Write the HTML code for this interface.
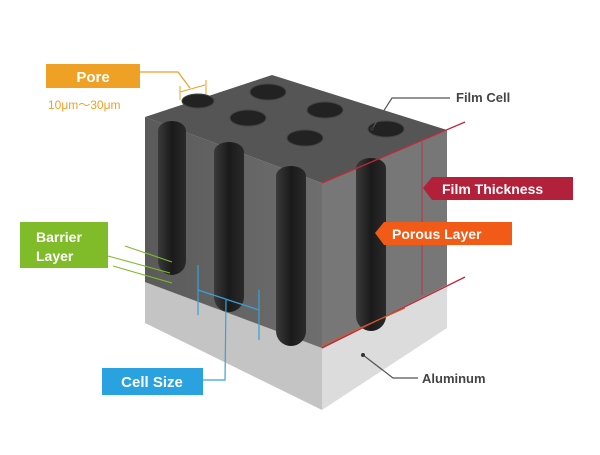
<!DOCTYPE html>
<html><head><style>
body{margin:0;width:600px;height:450px;background:#fff;overflow:hidden;font-family:"Liberation Sans",sans-serif}
</style></head><body>
<svg width="600" height="450" viewBox="0 0 600 450" xmlns="http://www.w3.org/2000/svg" font-family="Liberation Sans, sans-serif">
<defs>
<linearGradient id="pore" x1="0" x2="1"><stop offset="0" stop-color="#3a3a3a"/><stop offset=".5" stop-color="#1a1a1a"/><stop offset="1" stop-color="#2a2a2a"/></linearGradient>
<linearGradient id="lf" x1="0" x2="1"><stop offset="0" stop-color="#5a5a5a"/><stop offset="1" stop-color="#6e6e6e"/></linearGradient>
</defs>
<polygon points="145,280 322,345 322,410 145,323" fill="#c4c4c4"/>
<polygon points="322,345 447,285 447,328 322,410" fill="#dcdcdc"/>
<polygon points="145,117 322,183 322,348 145,282" fill="url(#lf)"/>
<polygon points="322,183 447,130 447,285 322,348" fill="#777"/>
<polygon points="145,117 272,75 447,130 322,183" fill="#555"/>
<g fill="#222" stroke="#444">
<ellipse cx="268" cy="92" rx="18" ry="8"/>
<ellipse cx="248" cy="118" rx="18" ry="8"/>
<ellipse cx="325" cy="110" rx="18" ry="8"/>
<ellipse cx="305" cy="138" rx="18" ry="8"/>
<ellipse cx="386" cy="129" rx="18" ry="8"/>
<ellipse cx="198" cy="101" rx="16" ry="7"/>
</g>
<g fill="url(#pore)">
<path d="M158,131 a14,10 0 0 1 28,0 v130 a14,14 0 0 1 -28,0z"/>
<path d="M214,152 a15,10 0 0 1 30,0 v145 a15,15 0 0 1 -30,0z"/>
<path d="M276,176 a15,10 0 0 1 30,0 v155 a15,15 0 0 1 -30,0z"/>
<path d="M356,168 a15,10 0 0 1 30,0 v148 a15,15 0 0 1 -30,0z"/>
</g>
<g stroke="#c0283c" stroke-width="1.3">
<line x1="322" y1="183" x2="465" y2="122"/>
<line x1="322" y1="348" x2="465" y2="277"/>
<line x1="422" y1="142" x2="422" y2="295" stroke-width=".8"/>
</g>
<line x1="322" y1="345" x2="405" y2="308" stroke="#c8602a" stroke-width="1.2"/>
<rect x="46" y="64" width="94" height="24" fill="#eea124"/>
<text x="93" y="82" fill="#fff" font-size="15" font-weight="bold" text-anchor="middle">Pore</text>
<text x="48" y="109" fill="#eea124" font-size="12">10μm〜30μm</text>
<polyline points="140,72 178,72 190,88" fill="none" stroke="#eea124" stroke-width="1.2"/>
<line x1="180" y1="92" x2="205" y2="85" stroke="#eea124"/>
<line x1="180" y1="86" x2="180" y2="100" stroke="#eea124"/>
<line x1="206" y1="80" x2="206" y2="94" stroke="#eea124"/>
<polyline points="372,129 392,98 450,98" fill="none" stroke="#555" stroke-width="1.2"/>
<circle cx="372" cy="129" r="2" fill="#333"/>
<text x="456" y="102" fill="#444" font-size="13" font-weight="bold">Film Cell</text>
<polygon points="432,177 573,177 573,200 432,200 423,188" fill="#b3203a"/>
<text x="442" y="194" fill="#fff" font-size="14" font-weight="bold">Film Thickness</text>
<polygon points="384,222 512,222 512,245 384,245 375,233" fill="#f25a17"/>
<text x="392" y="239" fill="#fff" font-size="14" font-weight="bold">Porous Layer</text>
<rect x="20" y="222" width="88" height="46" fill="#80bb2a"/>
<text x="36" y="242" fill="#fff" font-size="14" font-weight="bold">Barrier</text>
<text x="36" y="261" fill="#fff" font-size="14" font-weight="bold">Layer</text>
<g stroke="#80bb2a" stroke-width="1.1">
<line x1="125" y1="246" x2="172" y2="262"/>
<line x1="108" y1="256" x2="170" y2="273"/>
<line x1="113" y1="266" x2="172" y2="283"/>
</g>
<rect x="102" y="368" width="101" height="27" fill="#2ba2e0"/>
<text x="152" y="387" fill="#fff" font-size="15" font-weight="bold" text-anchor="middle">Cell Size</text>
<g stroke="#3aa0d8" stroke-width="1.2" fill="none">
<line x1="198" y1="265" x2="198" y2="315"/>
<line x1="259" y1="290" x2="259" y2="340"/>
<line x1="198" y1="290" x2="259" y2="310"/>
<polyline points="203,380 225,380 226,300"/>
</g>
<polyline points="363,355 393,378 418,378" fill="none" stroke="#555" stroke-width="1.2"/>
<circle cx="363" cy="355" r="2" fill="#333"/>
<text x="422" y="383" fill="#444" font-size="13" font-weight="bold">Aluminum</text>
</svg>
</body></html>
